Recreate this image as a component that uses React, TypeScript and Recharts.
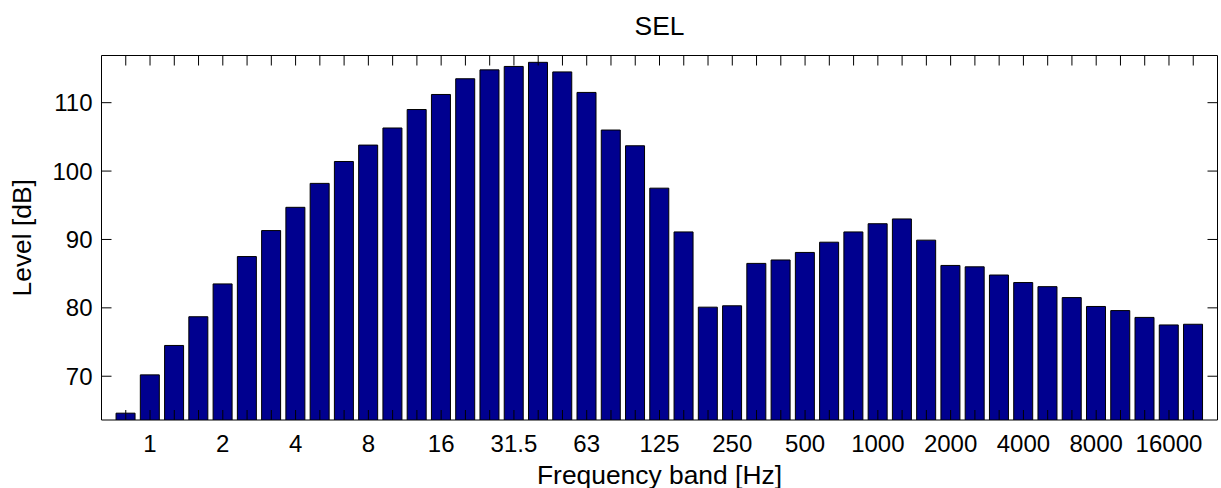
import { BarChart, Bar, XAxis, YAxis } from 'recharts'

// one-third octave band centre frequencies [Hz]
const bands = [
  '0.8', '1', '1.25', '1.6', '2', '2.5', '3.15', '4', '5', '6.3',
  '8', '10', '12.5', '16', '20', '25', '31.5', '40', '50', '63',
  '80', '100', '125', '160', '200', '250', '315', '400', '500', '630',
  '800', '1000', '1250', '1600', '2000', '2500', '3150', '4000', '5000', '6300',
  '8000', '10000', '12500', '16000', '20000',
]

// sound exposure level per band [dB]
const sel = [
  64.6, 70.2, 74.5, 78.7, 83.5, 87.5, 91.3, 94.7, 98.2, 101.4,
  103.8, 106.3, 109.0, 111.2, 113.5, 114.8, 115.3, 115.9, 114.5, 111.5,
  106.0, 103.7, 97.5, 91.1, 80.1, 80.3, 86.5, 87.0, 88.1, 89.6,
  91.1, 92.3, 93.0, 89.9, 86.2, 86.0, 84.8, 83.7, 83.1, 81.5,
  80.2, 79.6, 78.6, 77.5, 77.6,
]

// only every third band gets a label
const labelledBands = ['1', '2', '4', '8', '16', '31.5', '63', '125', '250', '500', '1000', '2000', '4000', '8000', '16000']
const levelTicks = [70, 80, 90, 100, 110]

const data = bands.map((band, i) => ({ band, level: sel[i] }))
const yDomain = [Math.min(...sel) - 1, Math.max(...sel) + 1]

const W = 1221
const H = 488
// plot box edges; each axis takes 1px of the margin
const BOX = { top: 55.5, right: 3.5, left: 101.5, bottom: 68 }
const M = { top: BOX.top - 1, right: BOX.right - 1, left: BOX.left - 1, bottom: BOX.bottom - 1 }
const TICK = 10
const FONT = '"Liberation Sans", Arial, Helvetica, sans-serif'
const INK = '#000'

// MATLAB-style axes: ticks point into the plot box
function BottomTick(props: any) {
  const { x, y, payload } = props
  const show = labelledBands.includes(payload.value)
  return (
    <g>
      <line x1={x} x2={x} y1={y} y2={y - TICK} stroke={INK} strokeWidth={1} />
      {show && (
        <text x={x} y={y + 31.5} textAnchor="middle" fontSize={24} fontFamily={FONT} fill={INK}>
          {payload.value}
        </text>
      )}
    </g>
  )
}

function TopTick(props: any) {
  const { x, y } = props
  return <line x1={x} x2={x} y1={y} y2={y + TICK} stroke={INK} strokeWidth={1} />
}

function LeftTick(props: any) {
  const { x, y, payload } = props
  return (
    <g>
      <line x1={x} x2={x + TICK} y1={y} y2={y} stroke={INK} strokeWidth={1} />
      <text x={x - 9} y={y + 8.5} textAnchor="end" fontSize={24} fontFamily={FONT} fill={INK}>
        {payload.value}
      </text>
    </g>
  )
}

function RightTick(props: any) {
  const { x, y } = props
  return <line x1={x} x2={x - TICK} y1={y} y2={y} stroke={INK} strokeWidth={1} />
}

export default function App() {
  const plotW = W - BOX.left - BOX.right
  const pad = plotW / (bands.length + 1) / 2
  const cx = BOX.left + plotW / 2
  const cy = BOX.top + (H - BOX.top - BOX.bottom) / 2

  return (
    <div style={{ position: 'absolute', left: 0, top: 0, width: W, height: H, background: '#fff' }}>
      <BarChart width={W} height={H} data={data} margin={M} barCategoryGap="10%">
        {/* bottom axis sits under the bars so its inward ticks are hidden by them */}
        <XAxis
          dataKey="band" height={1} interval={0} padding={{ left: pad, right: pad }}
          tickSize={0} tickMargin={0} tickLine={false} tick={<BottomTick />}
          axisLine={{ stroke: INK, strokeWidth: 1 }} zIndex={100}
        />
        <XAxis
          xAxisId="top" orientation="top" dataKey="band" height={1} interval={0}
          padding={{ left: pad, right: pad }} tickSize={0} tickMargin={0} tickLine={false}
          tick={<TopTick />} axisLine={{ stroke: INK, strokeWidth: 1 }}
        />
        <YAxis
          type="number" domain={yDomain} allowDataOverflow ticks={levelTicks} width={1}
          tickSize={0} tickMargin={0} tickLine={false} tick={<LeftTick />}
          axisLine={{ stroke: INK, strokeWidth: 1 }}
        />
        <YAxis
          yAxisId="right" orientation="right" type="number" domain={yDomain} allowDataOverflow
          ticks={levelTicks} width={1} tickSize={0} tickMargin={0} tickLine={false}
          tick={<RightTick />} axisLine={{ stroke: INK, strokeWidth: 1 }}
        />
        <Bar dataKey="level" fill="#00008F" stroke={INK} strokeWidth={1} isAnimationActive={false} />
      </BarChart>
      <svg width={W} height={H} style={{ position: 'absolute', left: 0, top: 0, pointerEvents: 'none' }}>
        <text x={cx} y={35} textAnchor="middle" fontSize={26.4} fontFamily={FONT} fill={INK}>SEL</text>
        <text x={cx} y={483.5} textAnchor="middle" fontSize={26.4} fontFamily={FONT} fill={INK}>
          Frequency band [Hz]
        </text>
        <text
          x={0} y={0} textAnchor="middle" fontSize={26.4} fontFamily={FONT} fill={INK}
          transform={`translate(31, ${cy}) rotate(-90)`}
        >
          Level [dB]
        </text>
      </svg>
    </div>
  )
}
